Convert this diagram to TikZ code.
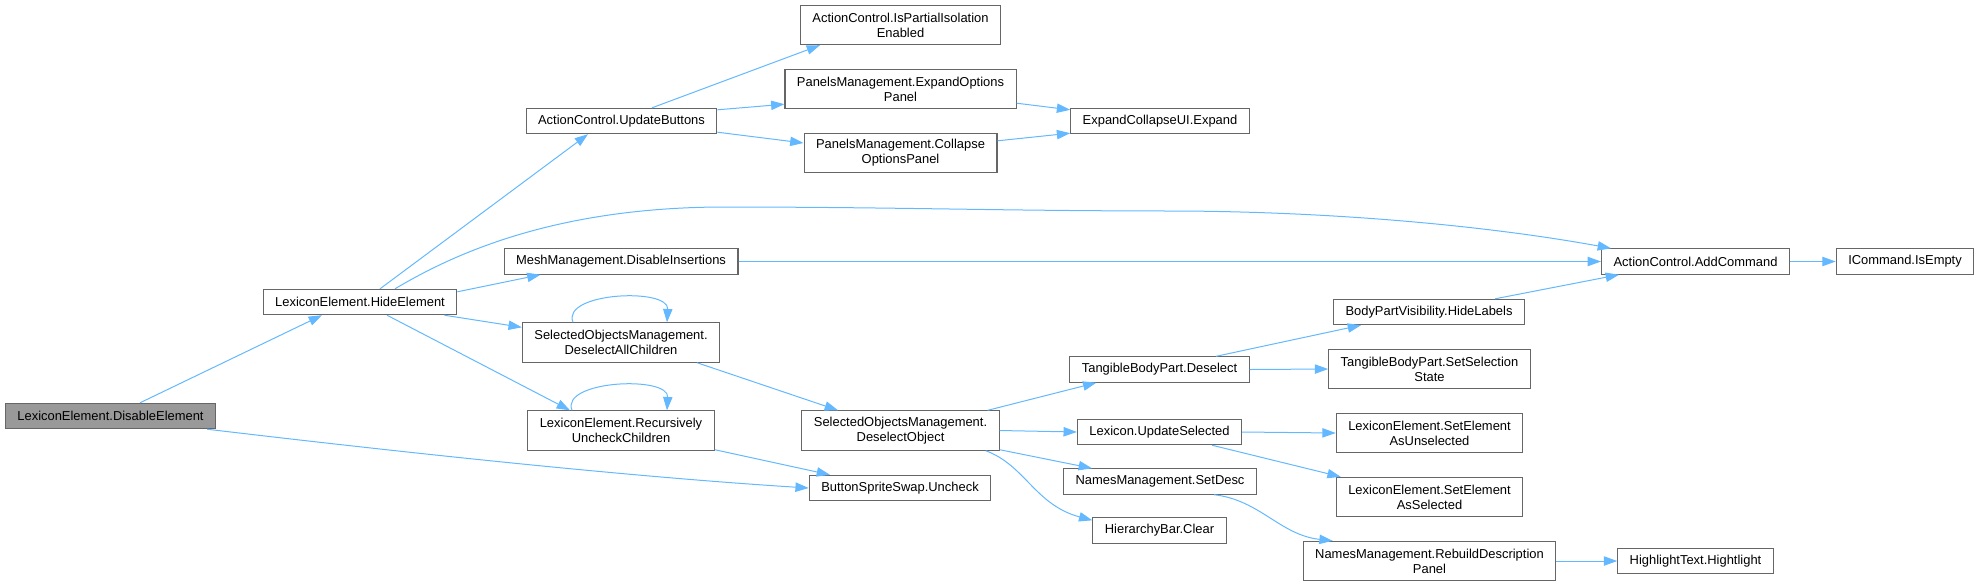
\documentclass[tikz,border=0pt]{standalone}
\usepackage{fontspec}
\setmainfont{Liberation Sans}
\usepackage{tikz}
\usetikzlibrary{arrows.meta, calc}
\definecolor{cEdge}{RGB}{99,184,255}
\definecolor{cFrame}{RGB}{102,102,102}
\definecolor{cRoot}{RGB}{153,153,153}
\tikzset{
	fnbox/.style  ={rectangle, draw=cFrame, line width=0.8pt, fill=white, align=center, inner xsep=9pt, inner ysep=1pt, minimum height=19pt},
	fnbox2/.style ={fnbox, minimum height=29.5pt},
	rootbox/.style={fnbox, fill=cRoot},
	call/.style   ={-{Triangle[length=10pt, width=7pt]}, draw=cEdge, line width=0.75pt},
}
\begin{document}
\begin{tikzpicture}[x=0.75pt, y=-0.75pt, every node/.style={font=\fontsize{9.7pt}{11.25pt}\selectfont}]
	\useasboundingbox (0,0) rectangle (1979,587);
	% call graph boxes, one column per depth
	\node[rootbox] (dis)    at (110.5,416)    {LexiconElement.DisableElement};
	\node[fnbox]   (hide)   at (360,302)      {LexiconElement.HideElement};
	\node[fnbox]   (upd)    at (621.5,121)    {ActionControl.UpdateButtons};
	\node[fnbox]   (mesh)   at (621,261.5)    {MeshManagement.DisableInsertions};
	\node[fnbox2]  (dac)    at (621,342.5)    {SelectedObjectsManagement.\\DeselectAllChildren};
	\node[fnbox2]  (ruc)    at (621,430.5)    {LexiconElement.Recursively\\UncheckChildren};
	\node[fnbox2]  (iso)    at (900.5,25)     {ActionControl.IsPartialIsolation\\Enabled};
	\node[fnbox2]  (exop)   at (900.5,89)     {PanelsManagement.ExpandOptions\\Panel};
	\node[fnbox2]  (colop)  at (900.5,153)    {PanelsManagement.Collapse\\OptionsPanel};
	\node[fnbox2]  (dso)    at (900.5,430.5)  {SelectedObjectsManagement.\\DeselectObject};
	\node[fnbox]   (unchk)  at (900,488)      {ButtonSpriteSwap.Uncheck};
	\node[fnbox]   (expand) at (1160,121)     {ExpandCollapseUI.Expand};
	\node[fnbox]   (tbd)    at (1159.5,369.5) {TangibleBodyPart.Deselect};
	\node[fnbox]   (upsel)  at (1159.5,432)   {Lexicon.UpdateSelected};
	\node[fnbox]   (sdesc)  at (1160,481.5)   {NamesManagement.SetDesc};
	\node[fnbox]   (hclr)   at (1159.5,530.5) {HierarchyBar.Clear};
	\node[fnbox]   (hlab)   at (1429,312)     {BodyPartVisibility.HideLabels};
	\node[fnbox2]  (sss)    at (1429.5,369)   {TangibleBodyPart.SetSelection\\State};
	\node[fnbox2]  (asun)   at (1429.5,433)   {LexiconElement.SetElement\\AsUnselected};
	\node[fnbox2]  (assel)  at (1429.5,497)   {LexiconElement.SetElement\\AsSelected};
	\node[fnbox2]  (rdp)    at (1429.5,561)   {NamesManagement.RebuildDescription\\Panel};
	\node[fnbox]   (addc)   at (1695.5,261.5) {ActionControl.AddCommand};
	\node[fnbox]   (hlt)    at (1695.5,561)   {HighlightText.Hightlight};
	\node[fnbox]   (empty)  at (1905,261.5)   {ICommand.IsEmpty};
	% calls
	\draw[call] ($(dis.north)+(29.5,0)$) -- ($(hide.south)+(-38,0)$);
	\draw[call] ($(dis.south east)+(-9,0)$) .. controls (450,458) and (650,478) .. (unchk.west);
	\draw[call] ($(hide.north)+(20,0)$) -- ($(upd.south)+(-33.5,0)$);
	\draw[call] ($(hide.north)+(35,0)$) .. controls (460,250) and (560,208) .. (720,207) .. controls (900,207) and (1000,211) .. (1180,211) .. controls (1350,212) and (1500,228) .. ($(addc.north west)+(10,0)$);
	\draw[call] ($(hide.north east)+(0,3)$) -- ($(mesh.south west)+(37,0)$);
	\draw[call] ($(hide.south east)+(-13,0)$) -- ($(dac.north west)+(0,5)$);
	\draw[call] ($(hide.south)+(27,0)$) -- ($(ruc.north)+(-51,0)$);
	\draw[call] ($(dac.north)+(-48,0)$) .. controls +(-12,-30) and +(2,-35) .. ($(dac.north)+(46,0)$);
	\draw[call] ($(ruc.north)+(-49,0)$) .. controls +(-12,-30) and +(2,-35) .. ($(ruc.north)+(46,0)$);
	\draw[call] ($(dac.south)+(76,0)$) -- ($(dso.north)+(-62.5,0)$);
	\draw[call] ($(ruc.south east)+(0,-1)$) -- ($(unchk.north)+(-70,0)$);
	\draw[call] ($(upd.north)+(30.5,0)$) -- ($(iso.south)+(-80.5,0)$);
	\draw[call] ($(upd.north east)+(0,2)$) -- ($(exop.south west)+(0,-5)$);
	\draw[call] ($(upd.south east)+(0,-2)$) -- ($(colop.west)+(0,-10)$);
	\draw[call] ($(exop.south east)+(0,-6)$) -- ($(expand.north west)+(0,2)$);
	\draw[call] ($(colop.north east)+(0,8)$) -- ($(expand.south west)+(0,-1)$);
	\draw[call] (mesh.east) -- (addc.west); \draw[call] (addc.east) -- (empty.west);
	\draw[call] ($(dso.north east)+(-12,0)$) -- ($(tbd.south west)+(27,0)$);
	\draw[call] (dso.east) -- (upsel.west);
	\draw[call] ($(dso.south east)+(0,-1)$) -- ($(sdesc.north west)+(29,0)$);
	\draw[call] ($(dso.south east)+(-14,0)$) .. controls (1025,465) and (1035,505) .. ($(hclr.north west)+(0,3)$);
	\draw[call] ($(tbd.north)+(56.5,0)$) -- ($(hlab.south)+(-68,0)$);
	\draw[call] (tbd.east) -- (sss.west);
	\draw[call] ($(hlab.north east)+(-30,0)$) -- ($(addc.south west)+(18,0)$);
	\draw[call] (upsel.east) -- (asun.west);
	\draw[call] ($(upsel.south)+(52.5,0)$) -- ($(assel.north west)+(5,0)$);
	\draw[call] ($(sdesc.south)+(54,0)$) .. controls (1260,500) and (1280,535) .. ($(rdp.north west)+(30,0)$);
	\draw[call] (rdp.east) -- (hlt.west);
\end{tikzpicture}
\end{document}
